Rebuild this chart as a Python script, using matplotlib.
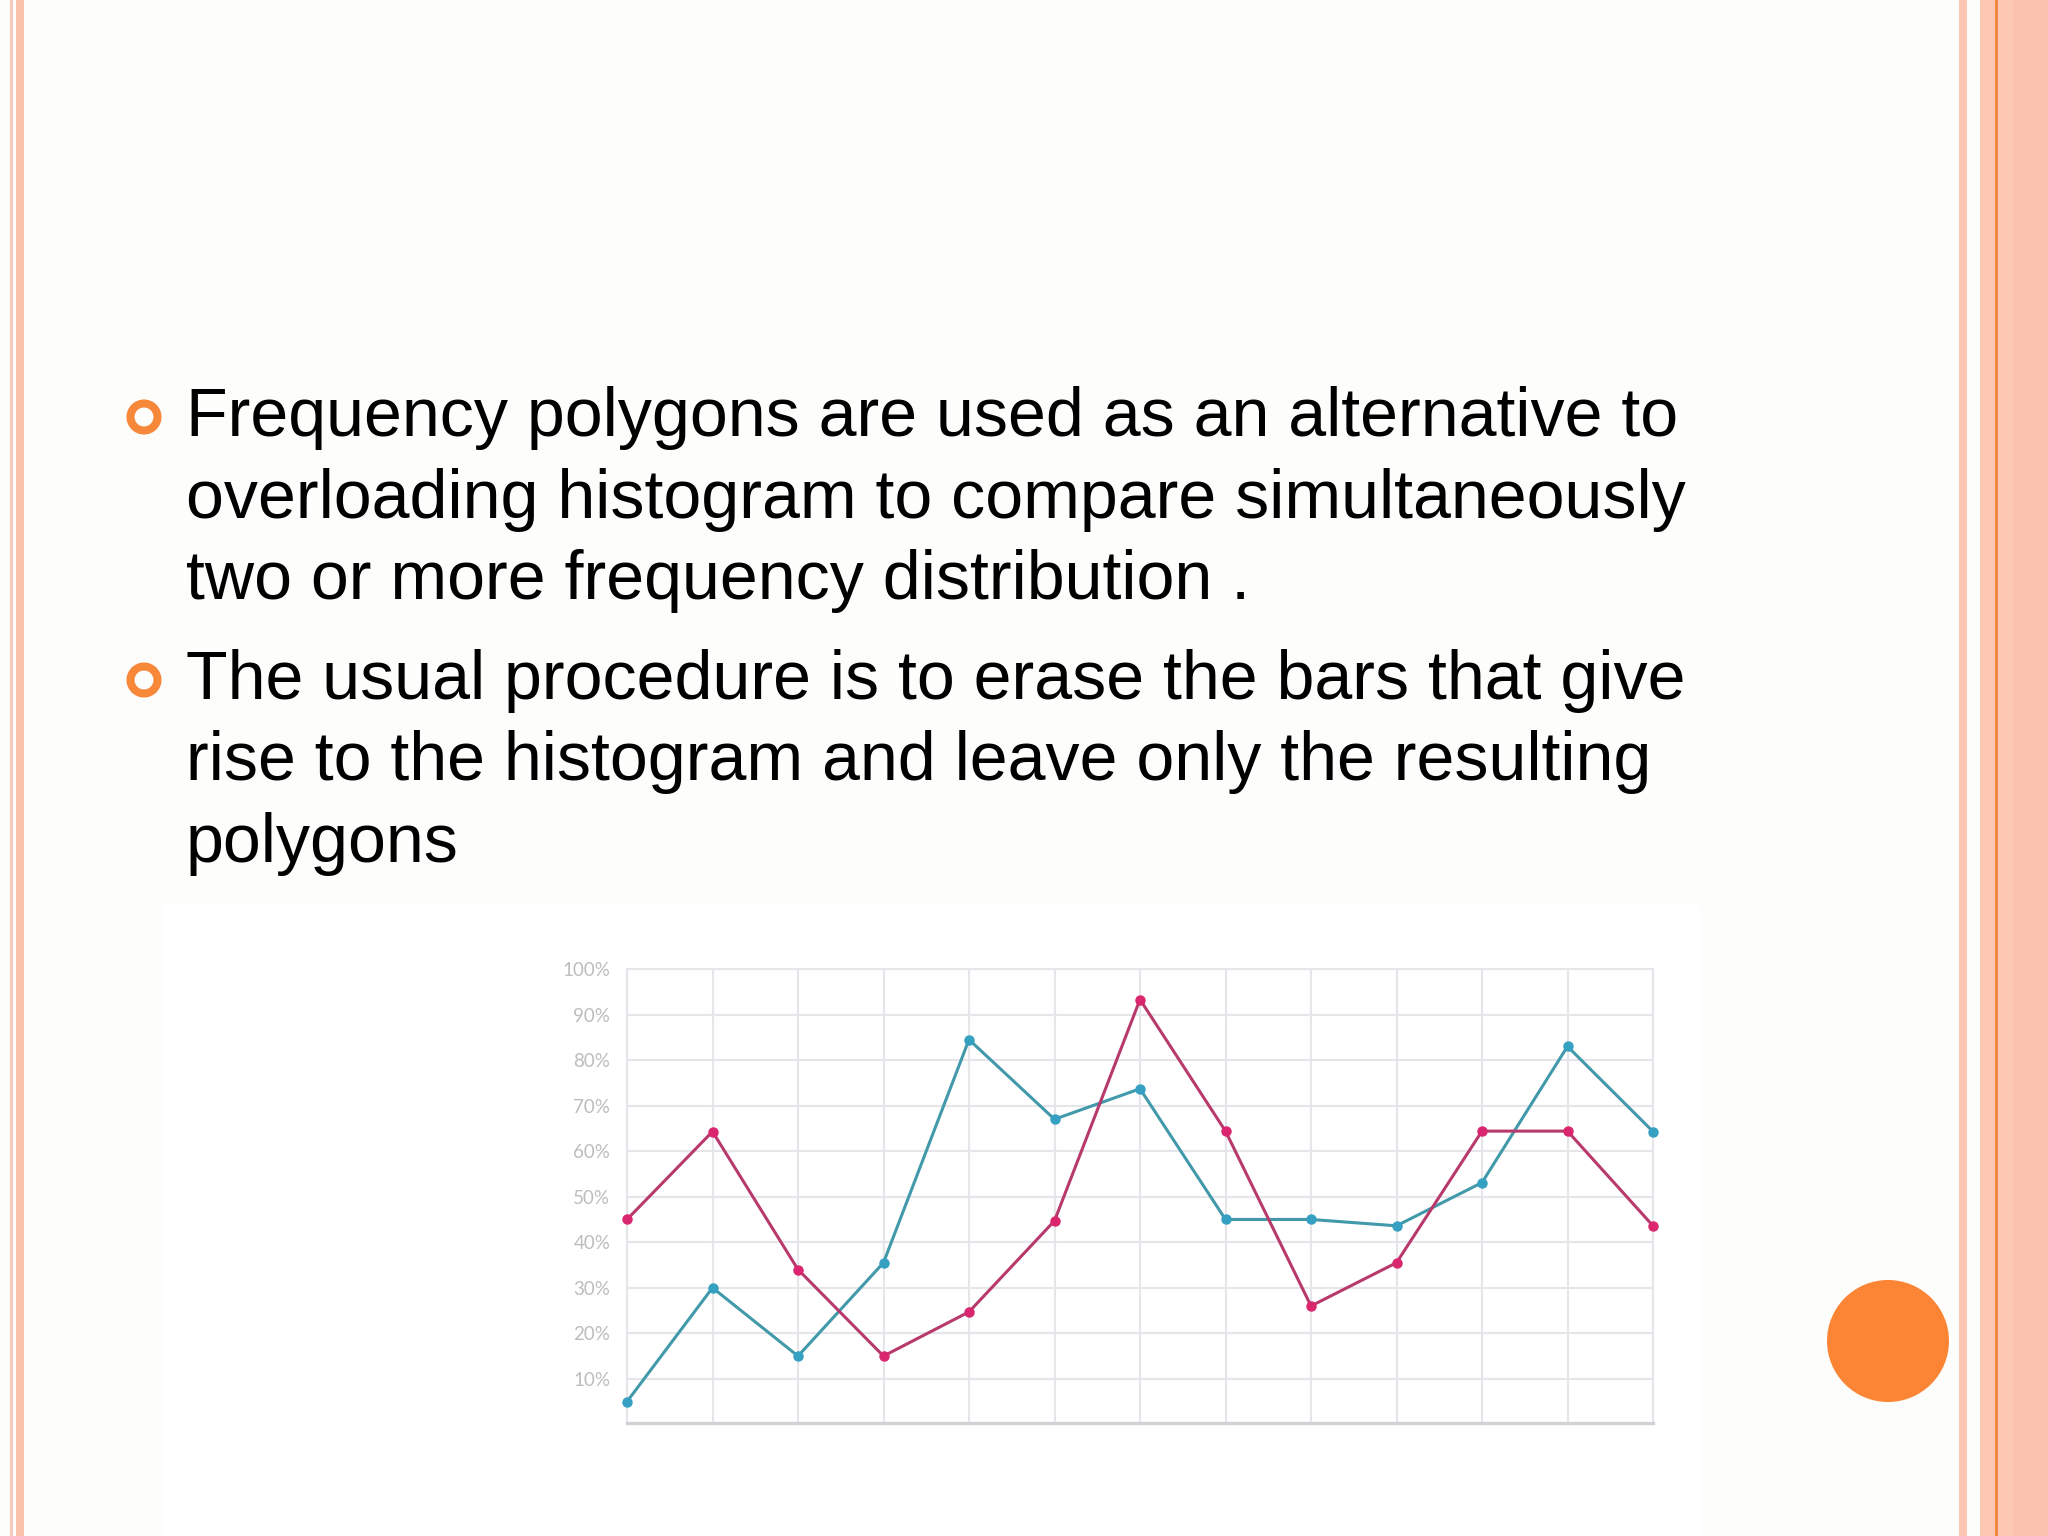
import matplotlib.pyplot as plt
from matplotlib.patches import Rectangle, Ellipse

# series (percent)
x_pos = list(range(13))
teal_vals = [5, 30, 15, 35.5, 84.5, 67, 73.7, 45, 45, 43.6, 53.1, 83, 64.3]
pink_vals = [45, 64.3, 34, 15, 24.7, 44.7, 93.3, 64.4, 26, 35.5, 64.4, 64.4, 43.6]
y_ticks = [10, 20, 30, 40, 50, 60, 70, 80, 90, 100]
y_labels = ["10%", "20%", "30%", "40%", "50%", "60%", "70%", "80%", "90%", "100%"]

bullet_1 = ["Frequency polygons are used as an alternative to",
            "overloading histogram to compare simultaneously",
            "two or more frequency distribution ."]
bullet_2 = ["The usual procedure is to erase the bars that give",
            "rise to the histogram and leave only the resulting",
            "polygons"]

W, H = 2048, 1536
fig = plt.figure(figsize=(20.48, 15.36), dpi=100)
fig.patch.set_facecolor("#fdfefc")


def px_rect(x0, x1, color, y0=0, y1=H, z=0):
    fig.patches.append(Rectangle((x0 / W, 1 - y1 / H), (x1 - x0) / W, (y1 - y0) / H,
                                 transform=fig.transFigure, facecolor=color,
                                 edgecolor="none", zorder=z))


# slide border stripes
px_rect(10, 12.5, "#f5c9bd")
px_rect(16, 24, "#fbc2ab")
px_rect(1958.5, 1966.5, "#fcc6b2")
px_rect(1980, 2048, "#fcc7b3")
px_rect(2013, 2048, "#fbc3ae")
px_rect(1995, 1997.5, "#f2873f")

# white area behind the pasted chart image
px_rect(163, 1700, "#ffffff", y0=905, y1=1536)

# bullet text
font = "Liberation Sans"
fs = 49.1
text_x = 186 / W
for lines, base, by in [(bullet_1, 436, 417), (bullet_2, 699, 680)]:
    fig.patches.append(Ellipse((144 / W, 1 - by / H), 27 / W, 27 / H,
                               transform=fig.transFigure, facecolor="none",
                               edgecolor="#f7883a", linewidth=5.8, zorder=3))
    for i, line in enumerate(lines):
        fig.text(text_x, 1 - (base + i * 81.5) / H, line, fontsize=fs,
                 family=font, color="#000000", va="baseline", ha="left")

# orange dot at the lower right
fig.patches.append(Ellipse((1888 / W, 1 - 1341 / H), 122 / W, 122 / H,
                           transform=fig.transFigure, facecolor="#fb8534",
                           edgecolor="none", zorder=3))

# chart
ax = fig.add_axes([627 / W, 1 - 1423 / H, (1653 - 627) / W, (1423 - 969) / H])
ax.set_zorder(5)
ax.set_facecolor("white")
ax.plot(x_pos, teal_vals, color="#4199aa", lw=2.2, marker="o", ms=6.5,
        mfc="#35a0c2", mec="#35a0c2", zorder=3, clip_on=False)
ax.plot(x_pos, pink_vals, color="#b83a6c", lw=2.2, marker="o", ms=6.5,
        mfc="#d9266e", mec="#d9266e", zorder=3, clip_on=False)
ax.set_xlim(0, 12)
ax.set_ylim(0.3, 100)
ax.set_xticks(x_pos)
ax.set_xticklabels([])
ax.set_yticks(y_ticks)
ax.set_yticklabels(y_labels, family="Lato", fontsize=13.5, color="#bdbdbd")
ax.tick_params(length=0, pad=12)
ax.grid(True, color="#e6e6ea", lw=1.5)
ax.set_axisbelow(True)
for side in ["top", "right", "left"]:
    ax.spines[side].set_color("#e6e6ea")
    ax.spines[side].set_linewidth(1.5)
ax.spines["bottom"].set_color("#d2d2d6")
ax.spines["bottom"].set_linewidth(2.4)

fig.savefig("out.png", dpi=100, facecolor=fig.get_facecolor())
